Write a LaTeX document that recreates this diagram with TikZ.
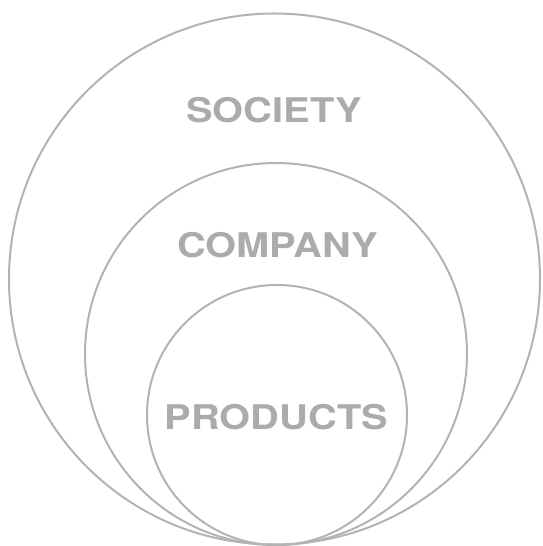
\documentclass[tikz,border=0pt]{standalone}
\usepackage{fontspec}
\setmainfont{TeX Gyre Heros}
\definecolor{ringgray}{HTML}{B3B3B3}
\definecolor{labelgray}{HTML}{ABABAB}
\begin{document}
\begin{tikzpicture}[x=1pt,y=1pt,
  ring/.style={draw=ringgray, line width=2pt},
  lbl/.style={text=labelgray, font=\bfseries\fontsize{34}{34}\selectfont, xscale=1.17, inner sep=0pt}]
\useasboundingbox (0,0) rectangle (542,546);
\draw[ring] (274.5,267) circle[radius=265.5];
\draw[ring] (276,192) circle[radius=191];
\draw[ring] (277,131) circle[radius=130];
\node[lbl] (society) at (274,436) {SOCIETY};
\node[lbl] (company) at (277.5,301) {COMPANY};
\node[lbl] (products) at (276.5,128.5) {PRODUCTS};
\end{tikzpicture}
\end{document}
